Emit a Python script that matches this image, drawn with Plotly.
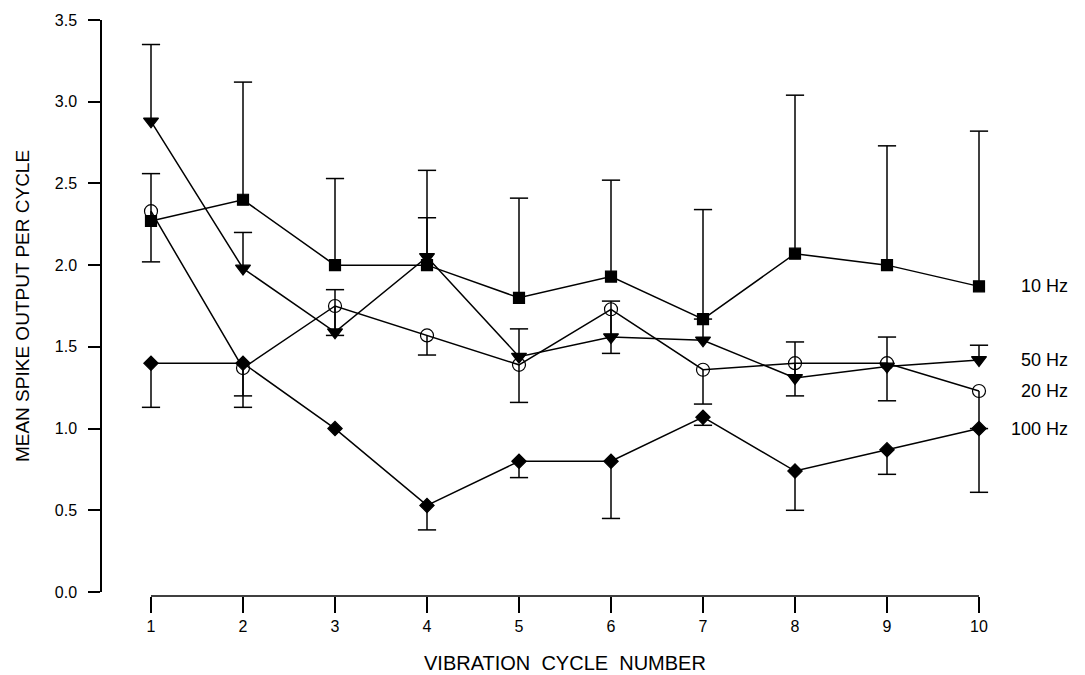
import plotly.graph_objects as go

# ---------------- data ----------------
cycles = [1, 2, 3, 4, 5, 6, 7, 8, 9, 10]

hz10 = [2.27, 2.40, 2.00, 2.00, 1.80, 1.93, 1.67, 2.07, 2.00, 1.87]
hz10_err = [0.29, 0.72, 0.53, 0.58, 0.61, 0.59, 0.67, 0.97, 0.73, 0.95]   # shown upward

hz50 = [2.88, 1.98, 1.59, 2.05, 1.44, 1.56, 1.54, 1.31, 1.38, 1.42]
hz50_err = [0.47, 0.22, 0.26, 0.24, 0.17, 0.22, 0.13, 0.22, 0.18, 0.09]   # shown upward

hz20 = [2.33, 1.37, 1.75, 1.57, 1.39, 1.73, 1.36, 1.40, 1.40, 1.23]
hz20_err = [0.31, 0.17, 0.18, 0.12, 0.23, 0.27, 0.21, 0.20, 0.23, 0.23]   # shown downward

hz100 = [1.40, 1.40, 1.00, 0.53, 0.80, 0.80, 1.07, 0.74, 0.87, 1.00]
hz100_err = [0.27, 0.27, 0.00, 0.15, 0.10, 0.35, 0.05, 0.24, 0.15, 0.39]  # shown downward

y_ticks = [0.0, 0.5, 1.0, 1.5, 2.0, 2.5, 3.0, 3.5]
x_title = "VIBRATION  CYCLE  NUMBER"
y_title = "MEAN SPIKE OUTPUT PER CYCLE"

# ---------------- layout geometry ----------------
W, H = 1085, 675
ML, MR, MT, MB = 102, 0, 20, 79
plot_w = W - ML - MR
plot_h = H - MT - MB
px_per_unit = 92.0
x_left = 1 - 49 / px_per_unit
x_right = x_left + plot_w / px_per_unit
y_dom0 = 4 / plot_h

FONT = "Liberation Sans, Arial, Helvetica, sans-serif"
LW = 1.5

series = [
    dict(name="20 Hz", y=hz20, err=hz20_err, sign=-1, symbol="circle-open", size=13),
    dict(name="100 Hz", y=hz100, err=hz100_err, sign=-1, symbol="diamond", size=11),
    dict(name="50 Hz", y=hz50, err=hz50_err, sign=1, symbol="triangle-down", size=13),
    dict(name="10 Hz", y=hz10, err=hz10_err, sign=1, symbol="square", size=11),
]

fig = go.Figure()

# error bars (one-sided), drawn from the data arrays
for s in series:
    sx, sy, cx, cy = [], [], [], []
    for x, m, e in zip(cycles, s["y"], s["err"]):
        if e <= 0:
            continue
        end = m + s["sign"] * e
        sx += [x, x, None]
        sy += [m, end, None]
        cx.append(x)
        cy.append(end)
    fig.add_trace(go.Scatter(x=sx, y=sy, mode="lines",
                             line=dict(color="black", width=LW),
                             hoverinfo="skip", showlegend=False))
    fig.add_trace(go.Scatter(x=cx, y=cy, mode="markers",
                             marker=dict(symbol="line-ew", size=13,
                                         line=dict(color="black", width=LW)),
                             hoverinfo="skip", showlegend=False, cliponaxis=False))

# series lines + markers
for s in series:
    fig.add_trace(go.Scatter(
        x=cycles, y=s["y"], mode="lines+markers", name=s["name"],
        line=dict(color="black", width=LW),
        marker=dict(symbol=s["symbol"], size=s["size"], color="black",
                    line=dict(color="black", width=1.2)),
        cliponaxis=False, showlegend=False))

# series labels at right
for s in series:
    fig.add_annotation(x=(1070 - ML) / plot_w, xref="paper", y=s["y"][-1], yref="y",
                       text=s["name"], showarrow=False, xanchor="right",
                       font=dict(family=FONT, size=18, color="black"))

# x-axis title centred under the cycle axis
fig.add_annotation(x=(cycles[0] + cycles[-1]) / 2, xref="x",
                   y=-(663 - (H - MB)) / plot_h, yref="paper",
                   text=x_title, showarrow=False, xanchor="center", yanchor="middle",
                   font=dict(family=FONT, size=20, color="black"))

# detached x-axis baseline from cycle 1 to cycle 10
fig.add_shape(type="line", xref="paper", yref="paper",
              x0=(cycles[0] - x_left) / (x_right - x_left),
              x1=(cycles[-1] - x_left) / (x_right - x_left),
              y0=0, y1=0, line=dict(color="black", width=LW))

fig.update_layout(
    width=W, height=H,
    margin=dict(l=ML, r=MR, t=MT, b=MB),
    paper_bgcolor="white", plot_bgcolor="white",
    font=dict(family=FONT, color="black"),
    showlegend=False,
    xaxis=dict(range=[x_left, x_right], domain=[0, 1], anchor="free", position=0,
               tickvals=cycles, ticktext=[str(c) for c in cycles],
               ticks="outside", ticklen=16, tickwidth=LW, tickcolor="black",
               showline=False, showgrid=False, zeroline=False,
               tickfont=dict(family=FONT, size=16)),
    yaxis=dict(range=[0, 3.5], domain=[y_dom0, 1],
               tickvals=y_ticks, tickformat=".1f",
               ticks="outside", ticklen=12, tickwidth=LW, tickcolor="black",
               showline=True, linecolor="black", linewidth=LW,
               showgrid=False, zeroline=False,
               ticklabelstandoff=8,
               tickfont=dict(family=FONT, size=16),
               title=dict(text=y_title, font=dict(family=FONT, size=19), standoff=20)),
)

fig.write_html("out.html")
